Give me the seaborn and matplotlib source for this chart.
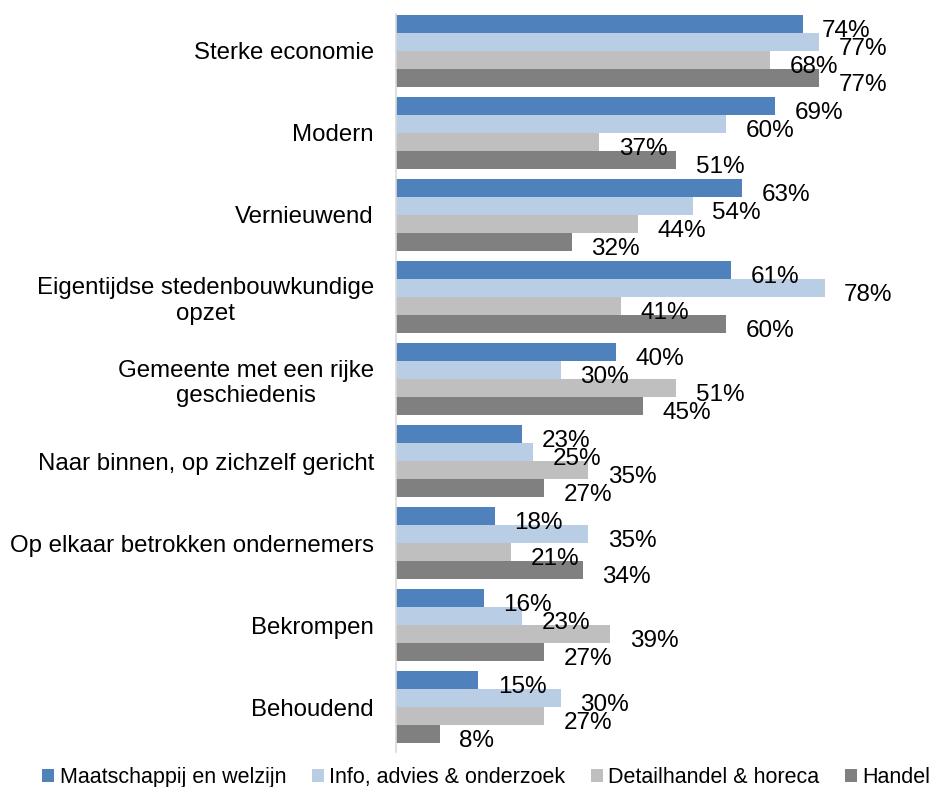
import matplotlib
matplotlib.use("Agg")
import matplotlib.pyplot as plt
import seaborn as sns
import pandas as pd

categories = [
    "Sterke economie",
    "Modern",
    "Vernieuwend",
    "Eigentijdse stedenbouwkundige\nopzet",
    "Gemeente met een rijke\ngeschiedenis",
    "Naar binnen, op zichzelf gericht",
    "Op elkaar betrokken ondernemers",
    "Bekrompen",
    "Behoudend",
]
sectors = [
    "Maatschappij en welzijn",
    "Info, advies & onderzoek",
    "Detailhandel & horeca",
    "Handel",
]
maatschappij = [74, 69, 63, 61, 40, 23, 18, 16, 15]
info = [77, 60, 54, 78, 30, 25, 35, 23, 30]
detailhandel = [68, 37, 44, 41, 51, 35, 21, 39, 27]
handel = [77, 51, 32, 60, 45, 27, 34, 27, 8]
colors = ["#4F81BD", "#B9CDE5", "#BFBFBF", "#808080"]

rows = []
for sector, vals in zip(sectors, [maatschappij, info, detailhandel, handel]):
    for cat, v in zip(categories, vals):
        rows.append({"Categorie": cat, "Sector": sector, "Waarde": v})
df = pd.DataFrame(rows)

sns.set_style("white")
plt.rcParams["font.family"] = ["Liberation Sans", "DejaVu Sans"]
plt.rcParams["text.color"] = "black"
plt.rcParams["ytick.color"] = "black"

fig = plt.figure(figsize=(9.3, 7.87), dpi=100)
ax = fig.add_axes([0.4258, 0.0442, 0.532, 0.938])

sns.barplot(data=df, x="Waarde", y="Categorie", hue="Sector", order=categories,
            hue_order=sectors, palette=colors, width=0.88, saturation=1,
            orient="h", ax=ax, legend=True, linewidth=0)

# value labels, a bit right of and below the bar end like the Excel original
for cont in ax.containers:
    for bar in cont:
        w = bar.get_width()
        ax.annotate(f"{w:.0f}%", (w, bar.get_y() + bar.get_height() / 2),
                    xytext=(14, -5), textcoords="offset points",
                    ha="left", va="center", fontsize=17.5, color="black")

ax.set_xlim(0, 90)
ax.set_ylim(8.55, -0.45)
ax.set_xlabel("")
ax.set_ylabel("")
ax.set_xticks([])
ax.tick_params(axis="y", length=0, pad=16, labelsize=17.3, labelcolor="black")
for lab in ax.get_yticklabels():
    lab.set_multialignment("center")
for s in ["top", "right", "bottom"]:
    ax.spines[s].set_visible(False)
ax.spines["left"].set_color("#D9D9D9")
ax.spines["left"].set_linewidth(1.2)

ax.legend(loc="lower center", bbox_to_anchor=(0.523, -0.012), bbox_transform=fig.transFigure,
          ncol=4, frameon=False, fontsize=15.5, handlelength=0.55, handleheight=0.55,
          handletextpad=0.25, columnspacing=1.2, borderaxespad=0)

fig.savefig("out.png", dpi=100)
